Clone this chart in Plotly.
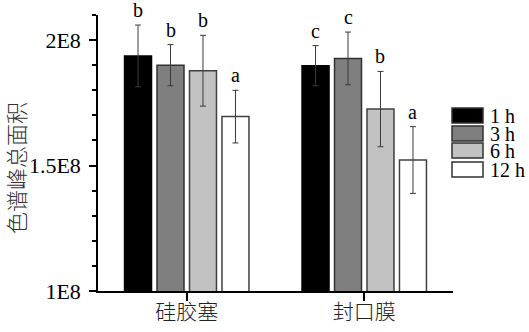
import plotly.graph_objects as go

# Peak area data (units of 1E8), two closure types, four sampling times
categories = ["硅胶塞", "封口膜"]
times = ["1 h", "3 h", "6 h", "12 h"]
means = {
    "1 h": [1.937, 1.898],
    "3 h": [1.900, 1.927],
    "6 h": [1.878, 1.725],
    "12 h": [1.695, 1.522],
}
errors = {
    "1 h": [0.123, 0.080],
    "3 h": [0.082, 0.105],
    "6 h": [0.141, 0.150],
    "12 h": [0.105, 0.133],
}
letters = {
    "1 h": ["b", "c"],
    "3 h": ["b", "c"],
    "6 h": ["b", "b"],
    "12 h": ["a", "a"],
}
y_ticks = [1e8, 1.5e8, 2e8]
y_tick_text = ["1E8", "1.5E8", "2E8"]
scale = 1e8

fills = ["#000000", "#7f7f7f", "#c2c2c2", "#ffffff"]
outlines = ["#000000", "#303030", "#404040", "#404040"]

W, H = 529, 332
ML, MR, MT, MB = 98, 76, 15, 41
PW, PH = W - ML - MR, H - MT - MB

SERIF = "Liberation Serif, Times New Roman, serif"
CJK = "Noto Sans CJK SC, Liberation Serif, serif"

slot = 0.183   # spacing between bars within a group (category units)
bar_w = 0.152

fig = go.Figure()
annotations = []
for j, t in enumerate(times):
    off = (j - 1.5) * slot
    xs = [i + off for i in range(len(categories))]
    ys = [v * scale for v in means[t]]
    es = [e * scale for e in errors[t]]
    fig.add_trace(go.Bar(
        x=xs, y=ys, width=bar_w, name=t, showlegend=False,
        marker=dict(color=fills[j], line=dict(color=outlines[j], width=1.5)),
        error_y=dict(type="data", array=es, visible=True,
                     color="#3a3a3a", thickness=1, width=3),
    ))
    for x, y, e, lab in zip(xs, ys, es, letters[t]):
        annotations.append(dict(
            x=x, y=y + e, xref="x", yref="y", text=lab, showarrow=False,
            yanchor="bottom", yshift=2,
            font=dict(family=SERIF, size=20, color="#000"),
        ))


def px_to_paper(px, py):
    return (px - ML) / PW, (H - MB - py) / PH


# Legend drawn as boxes with labels
shapes = []
box_left, box_right = 452, 483
box_tops = [108, 126, 143, 162]
box_h = 15
for j, t in enumerate(times):
    x0, y1 = px_to_paper(box_left, box_tops[j])
    x1, y0 = px_to_paper(box_right, box_tops[j] + box_h)
    shapes.append(dict(type="rect", xref="paper", yref="paper",
                       x0=x0, x1=x1, y0=y0, y1=y1,
                       fillcolor=fills[j], line=dict(color="#303030", width=1.5)))
    tx, ty = px_to_paper(488, box_tops[j] + box_h / 2)
    annotations.append(dict(
        x=tx, y=ty, xref="paper", yref="paper", text=t, showarrow=False,
        xanchor="left", yanchor="middle", height=17, valign="middle",
        font=dict(family=SERIF, size=20, color="#000"),
    ))

# Y axis title
tx, ty = px_to_paper(15, 168)
annotations.append(dict(
    x=tx, y=ty, xref="paper", yref="paper", text="色谱峰总面积",
    showarrow=False, textangle=-90, xanchor="center", yanchor="middle",
    font=dict(family=CJK, size=22, color="#333", weight=300),
))

fig.update_layout(
    width=W, height=H,
    margin=dict(l=ML, r=MR, t=MT, b=MB, pad=0, autoexpand=False),
    paper_bgcolor="white", plot_bgcolor="white",
    barmode="overlay",
    showlegend=False,
    annotations=annotations,
    shapes=shapes,
)
fig.update_xaxes(
    range=[-0.5, 1.5], tickvals=list(range(len(categories))), ticktext=categories,
    showline=True, linecolor="#000", linewidth=1.5,
    ticks="outside", ticklen=8, tickcolor="#000", tickwidth=1.5,
    ticklabelstandoff=-7, automargin=False,
    showgrid=False, zeroline=False,
    tickfont=dict(family=CJK, size=21, color="#222", weight=300),
)
fig.update_yaxes(
    range=[1e8, 2.1e8], tickvals=y_ticks, ticktext=y_tick_text,
    showline=True, linecolor="#000", linewidth=1.5,
    ticks="outside", ticklen=7, tickcolor="#000", tickwidth=1.5,
    ticklabelstandoff=4, automargin=False,
    minor=dict(dtick=1e7, tick0=1e8, ticks="outside", ticklen=4,
               tickcolor="#000", tickwidth=1.5, showgrid=False),
    showgrid=False, zeroline=False,
    tickfont=dict(family=SERIF, size=22, color="#000"),
)

fig.write_html("out.html")
